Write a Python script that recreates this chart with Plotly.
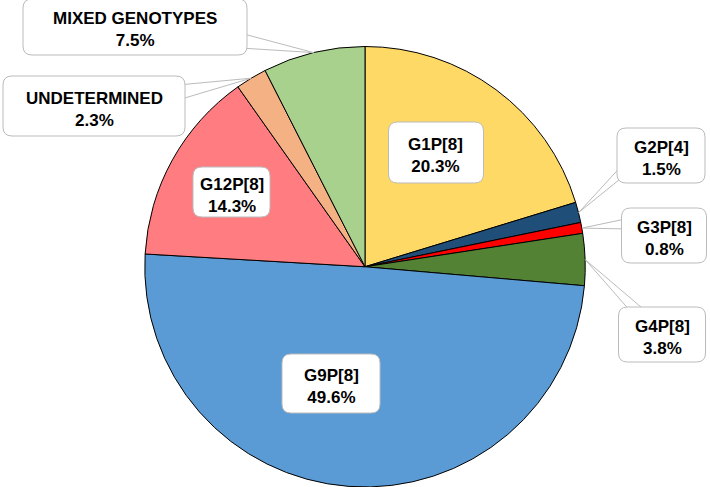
import math
import plotly.graph_objects as go

# ---- data ----
labels = ["G1P[8]", "G2P[4]", "G3P[8]", "G4P[8]", "G9P[8]", "G12P[8]", "UNDETERMINED", "MIXED GENOTYPES"]
values = [20.3, 1.5, 0.8, 3.8, 49.6, 14.3, 2.3, 7.5]
colors = ["#FFD966", "#1F4E79", "#FF0000", "#548235", "#5B9BD5", "#FF7C80", "#F4B183", "#A9D18E"]

# ---- layout constants (pixels) ----
W, H = 710, 487
CX, CY, R = 365, 267, 220.5

# label box: centre x, centre y, width, height (px)
box_cx = [436, 661, 664, 662, 331, 231.5, 94, 135]
box_cy = [152.5, 155.5, 235.5, 334.5, 383.5, 192, 106, 27]
box_w = [95, 88, 85, 87, 98, 77, 182, 224]
box_h = [61, 55, 55, 55, 59, 50, 60, 56]
# callout wedge base points (px) for outside labels, None for inside labels
wedge_base = [None,
              [(625, 162), (625, 175)],
              [(630, 218), (630, 229)],
              [(632, 313), (648, 313)],
              None, None,
              [(178, 85), (178, 100)],
              [(240, 33), (240, 48)]]

def px(x):
    return x / W

def py(y):
    return 1 - y / H

fig = go.Figure(go.Pie(
    labels=labels, values=values, sort=False, direction="clockwise", rotation=0,
    marker=dict(colors=colors, line=dict(color="#000000", width=1)),
    textinfo="none", textposition="none", hoverinfo="label+percent",
    domain=dict(x=[(CX - R) / W, (CX + R) / W], y=[0, (H - CY + R) / H]),
    showlegend=False,
))

shapes = []
annotations = []
total = sum(values)
cum = 0.0
for i, v in enumerate(values):
    mid = (cum + v / 2) / total * 2 * math.pi
    cum += v
    tipx = CX + R * math.sin(mid)
    tipy = CY - R * math.cos(mid)
    if wedge_base[i] is not None:
        (x1, y1), (x2, y2) = wedge_base[i]
        path = f"M {px(tipx)},{py(tipy)} L {px(x1)},{py(y1)} L {px(x2)},{py(y2)} Z"
        shapes.append(dict(type="path", xref="paper", yref="paper", path=path,
                           fillcolor="white", line=dict(color="#BBBBBB", width=1)))
    # rounded rectangle
    l = box_cx[i] - box_w[i] / 2
    r = box_cx[i] + box_w[i] / 2
    t = box_cy[i] - box_h[i] / 2
    b = box_cy[i] + box_h[i] / 2
    k = 9
    pts = (f"M {px(l + k)},{py(t)} L {px(r - k)},{py(t)} Q {px(r)},{py(t)} {px(r)},{py(t + k)} "
           f"L {px(r)},{py(b - k)} Q {px(r)},{py(b)} {px(r - k)},{py(b)} "
           f"L {px(l + k)},{py(b)} Q {px(l)},{py(b)} {px(l)},{py(b - k)} "
           f"L {px(l)},{py(t + k)} Q {px(l)},{py(t)} {px(l + k)},{py(t)} Z")
    shapes.append(dict(type="path", xref="paper", yref="paper", path=pts,
                       fillcolor="white", line=dict(color="#BBBBBB", width=1)))
    annotations.append(dict(
        x=px(box_cx[i]), y=py(box_cy[i]), xref="paper", yref="paper",
        xanchor="center", yanchor="middle", showarrow=False, yshift=-3,
        text=f"<b>{labels[i]}</b><br><b>{v:.1f}%</b>",
        font=dict(family="Liberation Sans, Arial, sans-serif", size=17, color="#000000"),
        align="center",
    ))

fig.update_layout(
    width=W, height=H, margin=dict(l=0, r=0, t=0, b=0),
    paper_bgcolor="white", plot_bgcolor="white",
    shapes=shapes, annotations=annotations,
)

fig.write_html("out.html", config={"displayModeBar": False},
               post_script="document.body.style.margin='0';document.body.style.overflow='hidden';")
